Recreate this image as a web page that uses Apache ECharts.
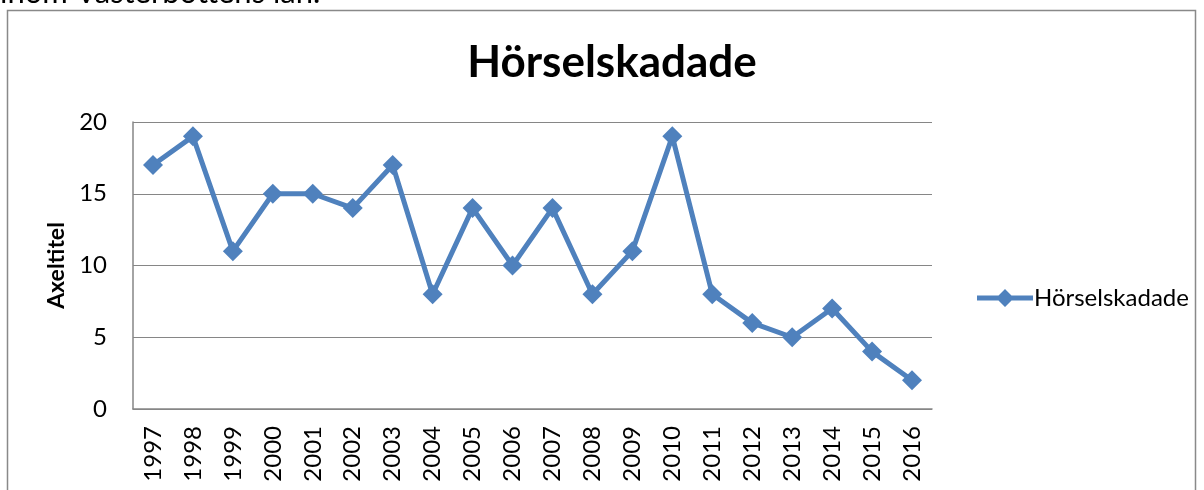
<!DOCTYPE html>
<html>
<head>
<meta charset="utf-8">
<script src="https://cdn.jsdelivr.net/npm/echarts@6/dist/echarts.min.js"></script>
<style>
  html, body { margin: 0; padding: 0; background: #fff; }
  #main { width: 1204px; height: 490px; }
</style>
</head>
<body>
<div id="main"></div>
<script>
// data
var years = ['1997','1998','1999','2000','2001','2002','2003','2004','2005','2006',
             '2007','2008','2009','2010','2011','2012','2013','2014','2015','2016'];
var horselskadade = [17, 19, 11, 15, 15, 14, 17, 8, 14, 10, 14, 8, 11, 19, 8, 6, 5, 7, 4, 2];
var yTicks = [0, 5, 10, 15, 20];

var blue = '#4F81BD';
var font = 'Lato, "Open Sans", sans-serif';

var myChart = echarts.init(document.getElementById('main'));

var option = {
    animation: false,
    backgroundColor: '#fff',
    title: {
        text: 'Hörselskadade',
        left: 607,
        top: 36,
        textAlign: 'center',
        textStyle: { fontFamily: font, fontSize: 44, fontWeight: 'bold', color: '#000' }
    },
    graphic: [
        // text from the page above the chart, cut off by the picture edge
        { type: 'text', x: 0, y: 8,
          style: { text: 'inom Västerbottens län.', font: '31px ' + font, fill: '#000',
                   verticalAlign: 'bottom' } },
        // chart frame
        { type: 'rect', shape: { x: 7.5, y: 10.5, width: 1188, height: 500 },
          style: { fill: null, stroke: '#898989', lineWidth: 1.5 } }
    ],
    legend: {
        data: ['Hörselskadade'],
        left: 972,
        top: 281,
        itemWidth: 56,
        itemHeight: 18,
        itemGap: 4,
        icon: 'path://M0,6.5 L56,6.5 L56,11.5 L0,11.5 Z M19,9 L28,0 L37,9 L28,18 Z',
        textStyle: { fontFamily: font, fontSize: 24, color: '#000', padding: [0, 0, 0, -4] }
    },
    grid: { left: 133, top: 122, width: 799, height: 287 },
    xAxis: {
        type: 'category',
        data: years,
        boundaryGap: true,
        axisLine: { lineStyle: { color: '#868686', width: 1.5 } },
        axisTick: { show: false },
        axisLabel: { rotate: 90, margin: 17, fontFamily: font, fontSize: 24, color: '#000' }
    },
    yAxis: {
        type: 'value',
        min: yTicks[0],
        max: yTicks[yTicks.length - 1],
        interval: yTicks[1] - yTicks[0],
        name: 'Axeltitel',
        nameLocation: 'middle',
        nameGap: 62,
        nameTextStyle: { fontFamily: font, fontSize: 23, fontWeight: 'bold', color: '#000' },
        axisLine: { show: true, lineStyle: { color: '#868686', width: 1.5 } },
        axisTick: { show: false },
        axisLabel: { margin: 26, fontFamily: font, fontSize: 24, color: '#000' },
        splitLine: { lineStyle: { color: '#868686', width: 1.2 } }
    },
    series: [{
        name: 'Hörselskadade',
        type: 'line',
        data: horselskadade,
        symbol: 'diamond',
        symbolSize: 20,
        itemStyle: { color: blue },
        lineStyle: { color: blue, width: 5 }
    }]
};

myChart.setOption(option);
</script>
</body>
</html>
